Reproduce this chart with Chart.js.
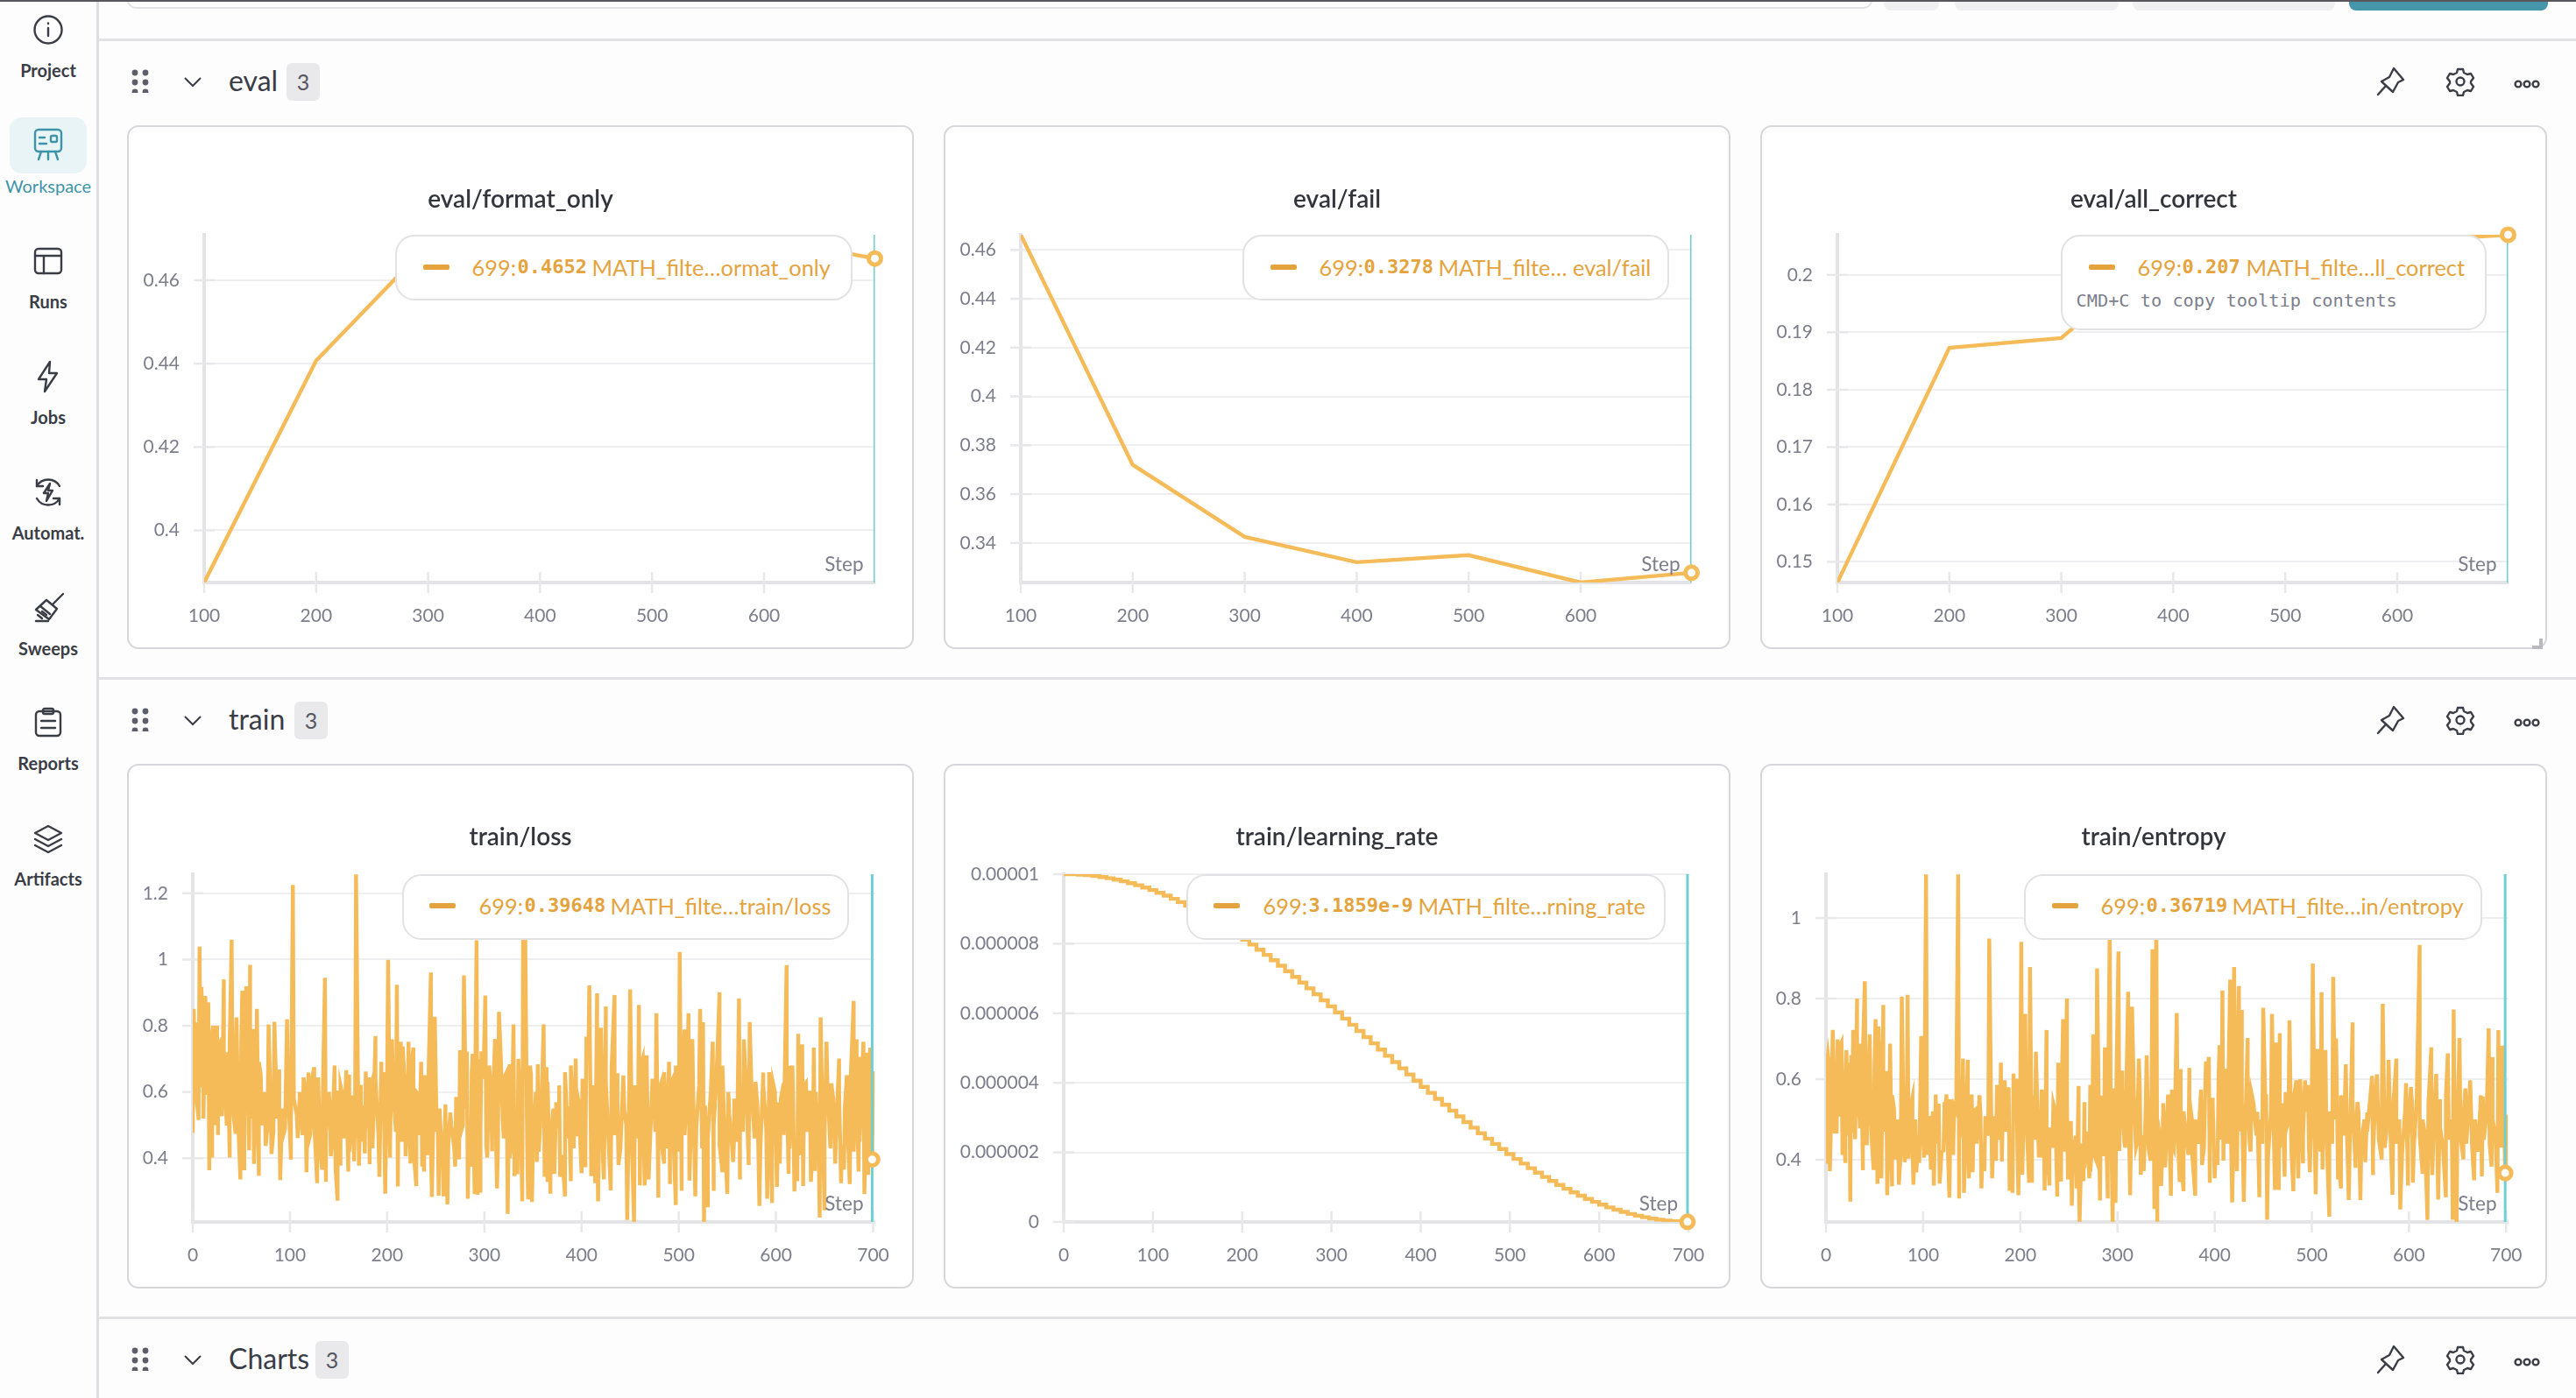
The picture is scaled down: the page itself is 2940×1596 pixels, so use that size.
<!DOCTYPE html>
<html>
<head>
<meta charset="utf-8">
<title>Workspace</title>
<script src="https://cdn.jsdelivr.net/npm/chart.js@4"></script>
<style>
  html, body { margin: 0; padding: 0; background: #fdfdfd; }
  body { width: 2940px; height: 1596px; overflow: hidden; position: relative; font-family: Lato, "Noto Sans", sans-serif; color: #3a3d46; }
  .abs { position: absolute; }
  .topline { position: absolute; left: 0; top: 0; width: 2940px; height: 2px; background: #58585c; }
  .hline { position: absolute; left: 112px; right: 0; height: 3px; background: #e2e2e5; }
  .sidebar { position: absolute; left: 110px; top: 0; width: 3px; height: 1596px; background: #dedee2; }
  .nav-label { position: absolute; left: 0; width: 110px; text-align: center; font-size: 20px; font-weight: 700; line-height: 24px; color: #3a3d46; white-space: nowrap; }
  .nav-active { position: absolute; left: 11px; top: 134px; width: 88px; height: 64px; border-radius: 14px; background: #e9f4f6; }
  .nav-icon { position: absolute; left: 35px; width: 40px; height: 40px; }
  .section-title { position: absolute; left: 261px; font-size: 32px; line-height: 40px; color: #3a3d46; }
  .badge { position: absolute; height: 43px; width: 38px; border-radius: 6px; background: #e9e9ec; text-align: center; font-size: 25px; line-height: 43px; color: #555863; }
  .card { position: absolute; box-sizing: border-box; background: #fff; border: 2.5px solid #d6d6db; border-radius: 13px; }
  .card-title { position: absolute; left: 0; right: 0; text-align: center; font-size: 28px; font-weight: 600; line-height: 34px; color: #33353c; }
  canvas { position: absolute; left: 0; top: 0; }
  .tip { position: absolute; box-sizing: border-box; background: #fff; border: 2.5px solid #e2e2e5; border-radius: 22px; color: #e5a33e; font-size: 25.4px; white-space: nowrap; }
  .tip span { position: absolute; line-height: 30px; }
  .tip .swatch { height: 6px; width: 30px; border-radius: 2px; background: #e5a33e; }
  .tip .val { font-family: "DejaVu Sans Mono", monospace; font-size: 22px; font-weight: 700; }
  .tip .hint { font-family: "DejaVu Sans Mono", monospace; font-size: 20.3px; color: #7c7e8c; }
</style>
</head>
<body>
<script>
// -------------------
// Run history, one list per metric
// -------------------
const evalSteps = [100, 200, 300, 400, 500, 600, 699];
const formatOnly = [0.3875, 0.4407, 0.4685, 0.4624, 0.4655, 0.4702, 0.4652];
const evalFail = [0.4662, 0.372, 0.3425, 0.3321, 0.335, 0.3238, 0.3278];
const allCorrect = [0.1464, 0.1873, 0.189, 0.2056, 0.1995, 0.2058, 0.207];

// loss and entropy: spikes and dips first, then the dense band they sit on (a value every 3 steps from step 2)
const lossSteps = [0,1,3,4,6,7,8,9,11,13,14,16,17,20,21,23,25,26,28,30,32,35,36,38,40,44,45,49,51,53,55,58,59,62,63,66,68,70,75,78,81,84,87,89,90,93,97,101,103,108,110,114,117,119,121,125,128,129,133,136,137,141,142,146,147,149,150,152,155,158,160,161,164,166,168,171,173,177,178,181,182,184,188,192,194,197,198,201,203,205,210,211,214,216,219,222,224,227,230,231,235,236,238,239,242,245,246,249,252,253,255,258,260,262,265,270,271,274,275,279,282,283,286,288,290,292,293,296,297,301,303,307,308,311,313,315,319,321,324,326,328,330,331,333,334,339,340,342,345,348,349,354,355,361,362,364,365,368,372,374,377,378,383,384,387,389,394,395,398,400,404,405,408,410,414,416,417,420,423,425,430,434,437,438,444,447,450,454,459,460,463,465,467,469,474,477,479,482,485,490,491,494,497,501,503,506,510,511,514,517,522,525,526,530,532,535,536,539,542,545,546,550,552,556,557,562,563,567,572,573,579,583,587,591,593,596,597,601,603,604,608,611,613,614,618,619,622,623,627,628,631,635,636,639,640,645,646,650,652,657,661,665,667,670,673,676,680,683,685,686,690,691,693,695,697,699,700];
const lossValues = [0.477,0.851,0.81,0.574,0.516,1.039,0.613,0.917,0.62,0.89,0.591,0.871,0.364,0.402,0.8,0.55,0.8,0.47,0.75,0.527,0.94,0.499,0.72,0.402,1.06,0.474,0.825,0.336,0.906,0.364,0.919,0.424,0.984,0.79,0.383,0.851,0.347,0.653,0.437,0.804,0.413,0.812,0.52,0.668,0.334,0.468,0.82,0.396,1.225,0.461,0.585,0.644,0.358,0.659,0.474,0.675,0.325,0.644,0.366,0.945,0.329,0.562,0.406,0.68,0.366,0.272,0.604,0.378,0.578,0.666,0.36,0.653,0.558,0.391,1.257,0.378,0.622,0.415,0.662,0.644,0.382,0.629,0.769,0.344,0.691,0.66,0.293,0.999,0.402,0.759,0.924,0.315,0.752,0.738,0.406,0.752,0.384,0.734,0.316,0.596,0.691,0.375,0.36,0.651,0.41,0.961,0.283,0.827,0.523,0.287,0.49,0.285,0.562,0.261,0.538,0.375,0.585,0.397,0.726,0.952,0.722,0.278,0.375,0.715,0.292,1.058,0.29,0.296,0.723,0.891,0.402,0.596,0.421,0.76,0.309,0.842,0.512,0.648,0.232,0.684,0.446,0.804,0.346,0.538,0.352,0.27,1.18,1.1,0.276,0.653,0.268,0.389,0.684,0.804,0.344,0.675,0.329,0.293,0.353,0.569,0.56,0.344,0.285,0.593,0.556,0.331,0.701,0.466,0.558,0.355,0.373,0.767,0.922,0.346,0.325,0.898,0.27,0.794,0.336,0.858,0.303,0.893,0.657,0.38,0.547,0.214,0.91,0.208,0.863,0.318,0.701,0.318,0.71,0.336,0.604,0.838,0.281,0.628,0.384,0.691,0.322,0.64,0.259,1.023,0.302,0.789,0.838,0.333,0.76,0.285,0.851,0.811,0.208,0.252,0.56,0.752,0.302,0.648,0.901,0.358,0.578,0.293,0.534,0.389,0.463,0.882,0.336,0.759,0.38,0.811,0.631,0.256,0.659,0.278,0.624,0.265,0.628,0.314,0.569,0.384,0.626,0.983,0.353,0.679,0.512,0.3,0.331,0.776,0.744,0.316,0.628,0.604,0.329,0.734,0.362,0.221,0.825,0.243,0.752,0.626,0.384,0.701,0.325,0.366,0.651,0.322,0.875,0.759,0.36,0.706,0.752,0.292,0.719,0.35,0.734,0.39648,0.662];
const lossBand = [0.72,0.55,0.76,0.52,0.7,0.6,0.78,0.5,0.74,0.58,0.68,0.53,0.75,0.56,0.71,0.49,0.77,0.6,0.66,0.52,0.73,0.57,0.69,0.5,0.6,0.5,0.57,0.48,0.6,0.52,0.55,0.49,0.62,0.5,0.58,0.53,0.6,0.47,0.6,0.45,0.63,0.5,0.58,0.43,0.62,0.48,0.6,0.44,0.57,0.5,0.62,0.46,0.6,0.42,0.59,0.52,0.63,0.45,0.56,0.49,0.61,0.43,0.64,0.47,0.6,0.5,0.66,0.44,0.62,0.48,0.68,0.45,0.63,0.5,0.65,0.43,0.6,0.47,0.62,0.46,0.58,0.44,0.6,0.48,0.55,0.42,0.52,0.45,0.5,0.43,0.54,0.47,0.5,0.55,0.45,0.66,0.42,0.7,0.48,0.64,0.44,0.68,0.5,0.62,0.43,0.7,0.46,0.66,0.4,0.63,0.48,0.7,0.42,0.65,0.45,0.68,0.44,0.6,0.42,0.58,0.47,0.63,0.44,0.55,0.49,0.62,0.41,0.66,0.46,0.68,0.43,0.6,0.5,0.64,0.42,0.7,0.45,0.62,0.48,0.66,0.4,0.63,0.44,0.68,0.47,0.58,0.43,0.65,0.5,0.6,0.42,0.62,0.46,0.68,0.44,0.7,0.41,0.64,0.48,0.6,0.45,0.66,0.43,0.62,0.5,0.68,0.42,0.6,0.47,0.63,0.44,0.58,0.49,0.62,0.43,0.56,0.46,0.6,0.5,0.66,0.44,0.68,0.42,0.6,0.47,0.58,0.45,0.62,0.48,0.64,0.41,0.6,0.46,0.56,0.43,0.62,0.49,0.66,0.42,0.6,0.45,0.58,0.47,0.64,0.43,0.68,0.46,0.6,0.41,0.62,0.48,0.56,0.44,0.6,0.42,0.66,0.46,0.63,0.43,0.58,0.48,0.6,0.44,0.56,0.47,0.65,0.42,0.62,0.45,0.68,0.43,0.6,0.46];

const lrSteps = [0,8,16,24,32,40,48,56,64,72,80,88,96,104,112,120,128,136,144,152,160,168,176,184,192,200,208,216,224,232,240,248,256,264,272,280,288,296,304,312,320,328,336,344,352,360,368,376,384,392,400,408,416,424,432,440,448,456,464,472,480,488,496,504,512,520,528,536,544,552,560,568,576,584,592,600,608,616,624,632,640,648,656,664,672,680,688,696,699];
// millionths, so 9.997 reads as 0.000009997
const lrMillionths = [10,9.997,9.987,9.971,9.949,9.92,9.884,9.843,9.795,9.741,9.681,9.615,9.543,9.465,9.382,9.292,9.198,9.096,8.991,8.881,8.765,8.645,8.519,8.391,8.256,8.117,7.975,7.829,7.679,7.526,7.369,7.209,7.047,6.882,6.715,6.545,6.374,6.2,6.025,5.848,5.671,5.493,5.314,5.135,4.955,4.776,4.596,4.418,4.24,4.063,3.887,3.713,3.54,3.37,3.201,3.035,2.871,2.71,2.552,2.397,2.246,2.097,1.952,1.811,1.677,1.545,1.417,1.295,1.176,1.064,0.955,0.852,0.755,0.662,0.576,0.496,0.42,0.351,0.289,0.231,0.18,0.136,0.097,0.065,0.039,0.02,0.007,0.001,0.0032];

const entropySteps = [0,1,3,4,5,7,9,12,13,16,17,20,21,24,25,27,28,30,32,35,36,38,40,42,45,46,49,51,53,54,57,59,62,63,66,68,70,72,75,78,81,84,85,89,90,92,93,96,98,101,103,104,107,108,111,113,116,117,121,122,124,127,128,131,132,136,137,141,142,146,147,150,151,155,159,160,163,164,168,171,173,175,176,180,181,184,188,189,192,193,196,198,201,202,205,209,210,212,216,219,222,225,227,230,234,238,239,242,244,248,249,252,253,258,260,261,265,266,271,272,274,275,279,282,283,286,287,290,292,295,297,298,301,302,305,307,311,313,315,319,322,324,327,330,334,336,338,340,341,345,347,349,352,355,356,358,361,364,365,368,373,374,377,380,386,387,391,394,395,398,400,403,405,408,409,412,416,418,420,423,425,428,430,434,436,438,444,446,450,453,454,459,462,463,466,467,472,473,477,481,484,486,491,493,496,498,501,504,506,510,511,514,518,522,525,527,530,535,538,542,545,547,550,555,557,562,563,567,572,573,579,583,587,591,597,599,603,604,608,611,614,617,619,623,624,628,630,632,638,640,645,646,649,652,656,658,663,667,668,675,676,682,685,686,691,692,696,699,700,700];
const entropyValues = [0.39,0.637,0.637,0.372,0.474,0.722,0.47,0.699,0.507,0.691,0.412,0.392,0.672,0.641,0.296,0.467,0.722,0.451,0.8,0.478,0.688,0.374,0.843,0.436,0.711,0.536,0.375,0.749,0.34,0.731,0.354,0.784,0.612,0.312,0.688,0.334,0.528,0.401,0.338,0.805,0.394,0.809,0.403,0.555,0.338,0.492,0.369,0.392,0.707,0.405,1.108,0.412,0.504,0.376,0.336,0.562,0.539,0.341,0.423,0.543,0.562,0.306,0.487,0.412,0.532,1.108,0.304,0.651,0.318,0.648,0.354,0.562,0.369,0.527,0.512,0.329,0.372,0.508,0.949,0.354,0.508,0.398,0.586,0.641,0.396,0.597,0.535,0.323,0.318,0.614,0.601,0.312,0.941,0.363,0.762,0.343,0.878,0.343,0.668,0.41,0.574,0.324,0.722,0.336,0.539,0.309,0.641,0.346,0.749,0.8,0.351,0.496,0.286,0.329,0.583,0.246,0.347,0.543,0.354,0.586,0.438,0.711,0.875,0.299,0.559,0.409,0.679,0.304,0.98,0.246,0.577,0.293,0.917,0.422,0.621,0.445,0.817,0.312,0.78,0.43,0.651,0.363,0.372,0.659,0.398,0.922,0.278,1,0.246,0.335,0.519,0.381,0.562,0.311,0.574,0.427,0.764,0.345,0.625,0.322,0.412,0.628,0.492,0.311,0.574,0.387,0.644,0.655,0.343,0.554,0.354,0.387,0.684,0.82,0.398,0.626,0.847,0.294,0.878,0.372,0.831,0.772,0.296,0.702,0.441,0.564,0.519,0.307,0.777,0.559,0.251,0.762,0.325,0.691,0.325,0.714,0.358,0.568,0.746,0.322,0.597,0.354,0.391,0.597,0.586,0.369,0.887,0.314,0.675,0.816,0.376,0.672,0.259,0.854,0.701,0.351,0.329,0.637,0.3,0.741,0.38,0.543,0.3,0.394,0.517,0.608,0.362,0.612,0.401,0.787,0.648,0.313,0.651,0.277,0.59,0.336,0.546,0.343,0.554,0.933,0.365,0.456,0.251,0.679,0.362,0.613,0.301,0.55,0.307,0.664,0.251,0.773,0.246,0.702,0.401,0.577,0.597,0.349,0.499,0.359,0.557,0.726,0.383,0.655,0.318,0.722,0.683,0.36719,0.512,0.347];
const entropyBand = [0.66,0.5,0.62,0.47,0.68,0.52,0.6,0.46,0.66,0.55,0.63,0.48,0.67,0.5,0.61,0.45,0.64,0.52,0.58,0.47,0.62,0.49,0.56,0.44,0.5,0.42,0.48,0.44,0.52,0.43,0.5,0.46,0.54,0.42,0.5,0.45,0.52,0.44,0.53,0.42,0.5,0.46,0.55,0.43,0.52,0.45,0.5,0.41,0.54,0.47,0.52,0.44,0.56,0.42,0.5,0.46,0.53,0.43,0.55,0.45,0.52,0.47,0.58,0.44,0.55,0.43,0.6,0.46,0.52,0.42,0.56,0.45,0.5,0.41,0.54,0.44,0.48,0.43,0.52,0.46,0.5,0.42,0.54,0.45,0.4,0.46,0.36,0.44,0.38,0.47,0.37,0.42,0.4,0.48,0.46,0.6,0.44,0.56,0.48,0.62,0.45,0.58,0.43,0.6,0.47,0.55,0.44,0.58,0.46,0.52,0.43,0.56,0.42,0.5,0.45,0.54,0.43,0.52,0.44,0.5,0.46,0.42,0.52,0.45,0.55,0.41,0.5,0.44,0.56,0.43,0.58,0.46,0.54,0.42,0.6,0.45,0.56,0.44,0.58,0.4,0.52,0.47,0.55,0.43,0.6,0.42,0.54,0.46,0.5,0.44,0.56,0.41,0.52,0.45,0.58,0.43,0.54,0.47,0.5,0.42,0.56,0.44,0.6,0.46,0.52,0.43,0.55,0.45,0.5,0.42,0.54,0.47,0.52,0.44,0.5,0.41,0.56,0.46,0.48,0.43,0.54,0.45,0.52,0.44,0.5,0.47,0.55,0.42,0.58,0.45,0.52,0.43,0.5,0.46,0.54,0.44,0.5,0.42,0.52,0.45,0.58,0.43,0.56,0.46,0.5,0.41,0.54,0.44,0.52,0.47,0.48,0.43,0.56,0.45,0.5,0.42,0.52,0.46,0.5,0.44,0.55,0.43,0.5,0.42,0.56,0.45,0.52,0.44,0.5,0.46,0.54,0.43,0.48];

const xTicksEval = [100, 200, 300, 400, 500, 600];
const xTicksTrain = [0, 100, 200, 300, 400, 500, 600, 700];
const formatTicks = [0.4, 0.42, 0.44, 0.46];
const failTicks = [0.34, 0.36, 0.38, 0.4, 0.42, 0.44, 0.46];
const correctTicks = [0.15, 0.16, 0.17, 0.18, 0.19, 0.2];
const lossTicks = [0.4, 0.6, 0.8, 1, 1.2];
const lrTicks = [0, 0.000002, 0.000004, 0.000006, 0.000008, 0.00001];
const entropyTicks = [0.4, 0.6, 0.8, 1];

const navItems = ['Project', 'Workspace', 'Runs', 'Jobs', 'Automat.', 'Sweeps', 'Reports', 'Artifacts'];

// -------------------
// Page furniture
// -------------------
const SERIES = '#f5bb58';
const CURSOR = '#6fcfd2';
const TICK_TEXT = '#7c7e8c';
const FONT = 'Lato, "Noto Sans", sans-serif';

function add(cls, style, html, parent) {
  const el = document.createElement('div');
  el.className = cls;
  el.style.cssText = style || '';
  if (html) el.innerHTML = html;
  (parent || document.body).appendChild(el);
  return el;
}

const ink = 'fill="none" stroke="#3a3d46" stroke-width="2.4" stroke-linecap="round" stroke-linejoin="round"';
const teal = 'fill="none" stroke="#3d94a8" stroke-width="2.4" stroke-linecap="round" stroke-linejoin="round"';
const navIcons = [
  `<svg viewBox="0 0 40 40"><g ${ink}><circle cx="20" cy="20" r="15.5"/><path d="M20 18v9"/><path d="M20 12.5v.5"/></g></svg>`,
  `<svg viewBox="0 0 40 40"><g ${teal}><rect x="5" y="3" width="30" height="25" rx="4"/><path d="M10 12h6M10 19h8"/><rect x="23" y="10" width="7" height="7" rx="1.5"/><path d="M12 28l-3 9M20 28v9M28 28l3 9"/></g></svg>`,
  `<svg viewBox="0 0 40 40"><g ${ink}><rect x="5" y="6" width="30" height="28" rx="4"/><path d="M5 14h30M15 14v20"/></g></svg>`,
  `<svg viewBox="0 0 40 40"><g ${ink}><path d="M22 3L9 23h9l-2 14 14-21h-9z"/></g></svg>`,
  `<svg viewBox="0 0 40 40"><g ${ink}><path d="M7 13A15 15 0 0 1 33 13M33 27A15 15 0 0 1 7 27"/><path d="M7 6v7h7M33 34v-7h-7"/><path d="M22 10l-7 11h5l-2 9 7-12h-5z"/></g></svg>`,
  `<svg viewBox="0 0 40 40"><g ${ink}><path d="M25 15L37 3"/><path d="M18 10L30 20 21 32 6 21z"/><path d="M11 17l11 9M8 27l5 4M13 23l5 4M6 34h14"/></g></svg>`,
  `<svg viewBox="0 0 40 40"><g ${ink}><rect x="6" y="6" width="28" height="28" rx="4"/><rect x="14" y="3" width="12" height="6" rx="2"/><path d="M12 17h16M12 25h16"/></g></svg>`,
  `<svg viewBox="0 0 40 40"><g ${ink}><path d="M20 5L35 13 20 21 5 13z"/><path d="M5 20l15 8 15-8"/><path d="M5 27l15 8 15-8"/></g></svg>`
];
const navIconTop = [14, 145, 278, 410, 542, 675, 806, 938];
const navLabelTop = [68, 200, 332, 464, 596, 728, 859, 991];

add('hline', 'top:44px');
add('hline', 'top:773px');
add('hline', 'top:1503px');
add('sidebar');
add('abs', 'left:145px;top:-12px;width:1992px;height:22px;border:2.5px solid #e2e2e5;border-radius:10px;box-sizing:border-box');
add('abs', 'left:2150px;top:-8px;width:63px;height:20px;background:#f0f0f2;border-radius:8px');
add('abs', 'left:2231px;top:-8px;width:187px;height:20px;background:#f0f0f2;border-radius:8px');
add('abs', 'left:2434px;top:-8px;width:231px;height:20px;background:#f0f0f2;border-radius:8px');
add('abs', 'left:2681px;top:-8px;width:227px;height:20px;background:#4596aa;border-radius:8px');
add('topline');

add('nav-active');
navItems.forEach((name, i) => {
  add('nav-icon', `top:${navIconTop[i]}px`, navIcons[i]);
  add('nav-label', `top:${navLabelTop[i]}px;${name === 'Workspace' ? 'color:#3d94a8;font-weight:400' : ''}`, name);
});

function sectionHeader(name, y, badgeLeft) {
  const dots = [0, 1, 2].map(r => [0, 1].map(c => `<circle cx="${6 + c * 12}" cy="${5 + r * 11}" r="3.4" fill="#5c5f6a"/>`).join('')).join('');
  add('abs', `left:148px;top:${y - 16}px;width:24px;height:28px`, `<svg width="24" height="28">${dots}</svg>`);
  add('abs', `left:209px;top:${y - 9}px;width:22px;height:14px`, `<svg width="22" height="14"><path d="M2 2l9 9 9-9" fill="none" stroke="#3a3d46" stroke-width="2"/></svg>`);
  add('section-title', `top:${y - 22}px`, name);
  add('badge', `left:${badgeLeft}px;top:${y - 22}px`, '3');
  add('abs', `left:2712px;top:${y - 18}px;width:34px;height:34px`, `<svg viewBox="0 0 34 34"><g ${ink}><path d="M20 2l11 13-6 3-6 11-13-12 9-5z"/><path d="M10 23L2 32"/></g></svg>`);
  add('abs', `left:2791px;top:${y - 18}px;width:34px;height:34px`, `<svg viewBox="0 0 34 34"><g ${ink}><path d="M14 3h6l1 4 4 2 4-1 3 5-3 4v2l3 4-3 5-4-1-4 2-1 4h-6l-1-4-4-2-4 1-3-5 3-4v-2l-3-4 3-5 4 1 4-2z"/><circle cx="17" cy="17" r="4.5"/></g></svg>`);
  add('abs', `left:2869px;top:${y - 8}px;width:30px;height:12px`, `<svg viewBox="0 0 30 12"><g ${ink}><circle cx="5" cy="6" r="3.4"/><circle cx="15" cy="6" r="3.4"/><circle cx="25" cy="6" r="3.4"/></g></svg>`);
}
sectionHeader('eval', 94, 327);
sectionHeader('train', 823, 336);
sectionHeader('Charts', 1553, 360);

// -------------------
// Shared drawing for the six panels
// -------------------
// short cross ticks on both axes plus the "Step" caption inside the plot
const axisMarks = {
  id: 'axisMarks',
  beforeDatasetsDraw(chart) {
    const { ctx, chartArea, scales } = chart;
    ctx.save();
    ctx.strokeStyle = '#e8e8eb';
    ctx.lineWidth = 2.5;
    scales.y.ticks.forEach(t => {
      const py = scales.y.getPixelForValue(t.value);
      ctx.beginPath(); ctx.moveTo(chartArea.left - 12, py); ctx.lineTo(chartArea.left + 12, py); ctx.stroke();
    });
    scales.x.ticks.forEach(t => {
      const px = scales.x.getPixelForValue(t.value);
      ctx.beginPath(); ctx.moveTo(px, chartArea.bottom - 12); ctx.lineTo(px, chartArea.bottom + 12); ctx.stroke();
    });
    ctx.restore();
  },
  afterDatasetsDraw(chart) {
    const { ctx, chartArea } = chart;
    ctx.save();
    ctx.font = '22.5px ' + FONT;
    ctx.fillStyle = TICK_TEXT;
    ctx.textAlign = 'right';
    ctx.textBaseline = 'middle';
    ctx.fillText('Step', chartArea.right - 13, chartArea.bottom - 20);
    ctx.restore();
  }
};

function panel(opts) {
  const W = opts.card[2], H = opts.card[3];
  const card = add('card', `left:${opts.card[0]}px;top:${opts.card[1]}px;width:${W}px;height:${H}px`);
  const canvas = document.createElement('canvas');
  canvas.width = W; canvas.height = H;
  canvas.style.left = '-2.5px'; canvas.style.top = '-2.5px';
  card.appendChild(canvas);
  add('card-title', `top:${opts.titleY - 17}px`, opts.title, card);

  // the band values land on every third step from 2 and get merged into the spikes and dips
  const band = (opts.band || []).map((v, i) => ({ x: 2 + 3 * i, y: v }));
  const points = opts.steps.map((s, i) => ({ x: s, y: opts.values[i] })).concat(band).sort((a, b) => a.x - b.x);
  const last = opts.values[opts.steps.indexOf(699)];
  const yMin = opts.yRange[0], yMax = opts.yRange[1];

  new Chart(canvas, {
    type: 'line',
    data: {
      datasets: [
        { data: [{ x: 699, y: last }], showLine: false, order: 0, clip: false,
          pointRadius: 7, pointHoverRadius: 7, pointBorderWidth: 5, pointBorderColor: SERIES, pointBackgroundColor: '#fff' },
        { data: [{ x: 699, y: yMin }, { x: 699, y: yMax }], order: 1, borderColor: CURSOR, borderWidth: 3, pointRadius: 0 },
        { data: points, order: 2, borderColor: SERIES, borderWidth: 4.4, pointRadius: 0, stepped: !!opts.stepped, borderJoinStyle: 'miter', tension: 0 }
      ]
    },
    options: {
      responsive: false,
      animation: false,
      devicePixelRatio: 1,
      events: [],
      layout: { padding: { left: 0, right: opts.rightPad, top: opts.topPad, bottom: 0 } },
      plugins: {
        legend: { display: false },
        tooltip: { enabled: false },
        title: { display: false }
      },
      scales: {
        x: {
          type: 'linear',
          min: opts.xRange[0],
          max: opts.xRange[1],
          afterBuildTicks: s => { s.ticks = opts.xTicks.map(v => ({ value: v })); },
          afterFit: s => { s.height = opts.xHeight; },
          grid: { display: false },
          border: { color: '#e4e4e7', width: 4 },
          ticks: { color: TICK_TEXT, font: { family: FONT, size: 21 }, padding: 18, maxRotation: 0, autoSkip: false }
        },
        y: {
          min: yMin,
          max: yMax,
          afterBuildTicks: s => { s.ticks = opts.yTicks.map(v => ({ value: v })); },
          afterFit: s => { s.width = opts.yWidth; },
          grid: { color: '#efeff1', lineWidth: 2, drawTicks: false },
          border: { color: '#e4e4e7', width: 4 },
          ticks: { color: TICK_TEXT, font: { family: FONT, size: 21 }, padding: 28, autoSkip: false, callback: v => String(v) }
        }
      }
    },
    plugins: [axisMarks]
  });
}

function tooltip(t) {
  const box = add('tip', `left:${t.box[0]}px;top:${t.box[1]}px;width:${t.box[2]}px;height:${t.box[3]}px`);
  const L = t.box[0], cy = t.rowY - t.box[1] - 2.5;
  const span = (cls, x, text) => `<span class="${cls}" style="left:${x - L - 2.5}px;top:${cy - 15}px">${text}</span>`;
  box.innerHTML =
    `<span class="swatch" style="left:${t.swatch - L - 2.5}px;top:${cy - 3}px"></span>` +
    span('', t.stepX, '699:') + span('val', t.valX, t.val) + span('', t.nameX, t.name) +
    (t.hint ? `<span class="hint" style="left:${t.hintX - L - 2.5}px;top:${t.hintY - t.box[1] - 17.5}px">${t.hint}</span>` : '');
}

// -------------------
// eval row
// -------------------
const evalShared = { steps: evalSteps, xRange: [100, 699], xTicks: xTicksEval, rightPad: 44.5, xHeight: 76, titleY: 80.5, topPad: 125 };
panel({ ...evalShared, card: [145, 143, 898, 598], title: 'eval/format_only', values: formatOnly, yRange: [0.3875, 0.4709], yTicks: formatTicks, yWidth: 88 });
panel({ ...evalShared, card: [1077, 143, 898, 598], title: 'eval/fail', values: evalFail, yRange: [0.3238, 0.4662], yTicks: failTicks, yWidth: 88 });
panel({ ...evalShared, card: [2009, 143, 898, 598], title: 'eval/all_correct', values: allCorrect, yRange: [0.1464, 0.207], yTicks: correctTicks, yWidth: 88 });

tooltip({ box: [451, 268, 522, 75], rowY: 305, swatch: 483, stepX: 539, valX: 591, nameX: 676, val: '0.4652', name: 'MATH_filte…ormat_only' });
tooltip({ box: [1418, 268, 487, 75], rowY: 305, swatch: 1450, stepX: 1506, valX: 1557, nameX: 1642, val: '0.3278', name: 'MATH_filte… eval/fail' });
tooltip({ box: [2352, 268, 486, 109], rowY: 305, swatch: 2384, stepX: 2440, valX: 2491, nameX: 2564, val: '0.207', name: 'MATH_filte…ll_correct', hint: 'CMD+C to copy tooltip contents', hintX: 2370, hintY: 343 });

// corner resize grip on the last eval panel
add('abs', 'left:2890px;top:725px;width:12px;height:12px', '<svg width="12" height="12"><path d="M12 0v12H0v-4h8V0z" fill="#b9b9bf"/></svg>');

// -------------------
// train row
// -------------------
const trainShared = { xTicks: xTicksTrain, xHeight: 76, titleY: 80, topPad: 126 };
panel({ ...trainShared, card: [145, 872, 898, 599], title: 'train/loss', steps: lossSteps, values: lossValues, band: lossBand, xRange: [0, 701.8], rightPad: 44.5, yRange: [0.2078, 1.2577], yTicks: lossTicks, yWidth: 75 });
panel({ ...trainShared, card: [1077, 872, 898, 599], title: 'train/learning_rate', steps: lrSteps, values: lrMillionths.map(v => v / 1e6), stepped: true, xRange: [0, 701], rightPad: 47, yRange: [0, 0.00001], yTicks: lrTicks, yWidth: 137 });
panel({ ...trainShared, card: [2009, 872, 898, 599], title: 'train/entropy', steps: entropySteps, values: entropyValues, band: entropyBand, xRange: [0, 702], rightPad: 44.5, yRange: [0.2457, 1.1087], yTicks: entropyTicks, yWidth: 75 });

tooltip({ box: [459, 998, 510, 75], rowY: 1034.5, swatch: 490, stepX: 547, valX: 599, nameX: 697, val: '0.39648', name: 'MATH_filte…train/loss' });
tooltip({ box: [1354, 998, 547, 75], rowY: 1034.5, swatch: 1385, stepX: 1442, valX: 1494, nameX: 1619, val: '3.1859e-9', name: 'MATH_filte…rning_rate' });
tooltip({ box: [2310, 998, 523, 75], rowY: 1034.5, swatch: 2342, stepX: 2398, valX: 2450, nameX: 2548, val: '0.36719', name: 'MATH_filte…in/entropy' });
</script>
</body>
</html>
